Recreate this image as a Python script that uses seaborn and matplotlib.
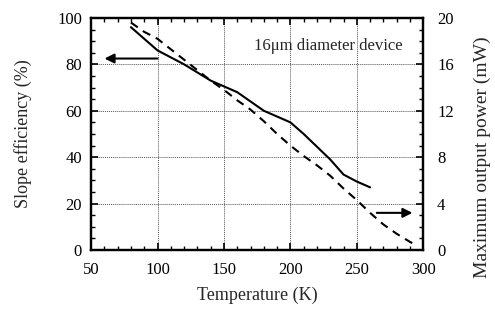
import numpy as np
import pandas as pd
import matplotlib
matplotlib.use("Agg")
import matplotlib.pyplot as plt
import seaborn as sns
from matplotlib.ticker import MultipleLocator

# slope efficiency (left axis, %)
temp_eff = [80, 90, 100, 110, 120, 130, 140, 150, 160, 170, 180, 190, 200, 210, 220, 230, 240, 250, 260]
slope_eff = [96, 91, 86, 83, 80, 76.5, 73, 70.5, 68, 64, 60, 57.5, 55, 50, 44.5, 39, 32.5, 29.5, 27]

# max output power (right axis, mW)
temp_pow = [80, 90, 100, 110, 120, 130, 140, 150, 160, 170, 180, 190, 200, 210, 220,
            230, 240, 250, 260, 270, 280, 290, 295]
max_power = [19.6, 18.8, 18.2, 17.3, 16.4, 15.5, 14.6, 13.8, 12.9, 12.1, 11.1, 10.0, 9.0,
             8.1, 7.3, 6.4, 5.3, 4.3, 3.2, 2.2, 1.4, 0.7, 0.4]

df_eff = pd.DataFrame({"T": temp_eff, "eff": slope_eff})
df_pow = pd.DataFrame({"T": temp_pow, "pow": max_power})

sns.set_style("ticks")
plt.rcParams["font.family"] = ["Liberation Serif", "DejaVu Serif"]

fig = plt.figure(figsize=(4.95, 3.09), dpi=100)
ax = fig.add_axes([0.184, 0.191, 0.671, 0.751])

sns.lineplot(data=df_eff, x="T", y="eff", ax=ax, color="black", lw=1.5)
ax.set_xlim(50, 300)
ax.set_ylim(0, 100)
ax.xaxis.set_major_locator(MultipleLocator(50))
ax.xaxis.set_minor_locator(MultipleLocator(10))
ax.yaxis.set_major_locator(MultipleLocator(20))
ax.yaxis.set_minor_locator(MultipleLocator(5))
ax.grid(True, which="major", color="#555555", linestyle=(0, (1, 1)), lw=0.7)
ax.tick_params(which="both", direction="in", top=True, labelsize=12, colors="black")
ax.tick_params(which="major", length=5, width=1.2)
ax.tick_params(which="minor", length=3, width=1)
ax.tick_params(axis="x", which="major", pad=9)
ax.tick_params(axis="y", which="major", pad=6.5)
ax.set_xlabel("Temperature (K)", fontsize=13, labelpad=6)
ax.set_ylabel("Slope efficiency (%)", fontsize=13, labelpad=18)
for s in ax.spines.values():
    s.set_linewidth(1.6)
    s.set_color("black")

ax2 = ax.twinx()
sns.lineplot(data=df_pow, x="T", y="pow", ax=ax2, color="black", lw=1.5, linestyle=(0, (4, 3)))
ax2.set_ylim(0, 20)
ax2.yaxis.set_major_locator(MultipleLocator(4))
ax2.yaxis.set_minor_locator(MultipleLocator(1))
ax2.tick_params(which="both", direction="in", labelsize=12, colors="black")
ax2.tick_params(which="major", length=5, width=1.2, pad=10)
ax2.tick_params(which="minor", length=3, width=1)
ax2.set_ylabel("Maximum output power (mW)", fontsize=14, labelpad=14)
ax2.yaxis.label.set_y(0.40)
ax2.set_xlabel("")
ax2.grid(False)
for s in ax2.spines.values():
    s.set_linewidth(1.6)
    s.set_color("black")

ax.annotate("", xy=(58, 82.5), xytext=(102, 82.5),
            arrowprops=dict(arrowstyle="-|>", color="black", lw=1.5, mutation_scale=14))
ax2.annotate("", xy=(294, 3.2), xytext=(263, 3.2),
             arrowprops=dict(arrowstyle="-|>", color="black", lw=1.5, mutation_scale=14))
ax.text(173, 88, "16\u03bcm diameter device", fontsize=12, va="center", ha="left")

fig.savefig("out.png", dpi=100)
